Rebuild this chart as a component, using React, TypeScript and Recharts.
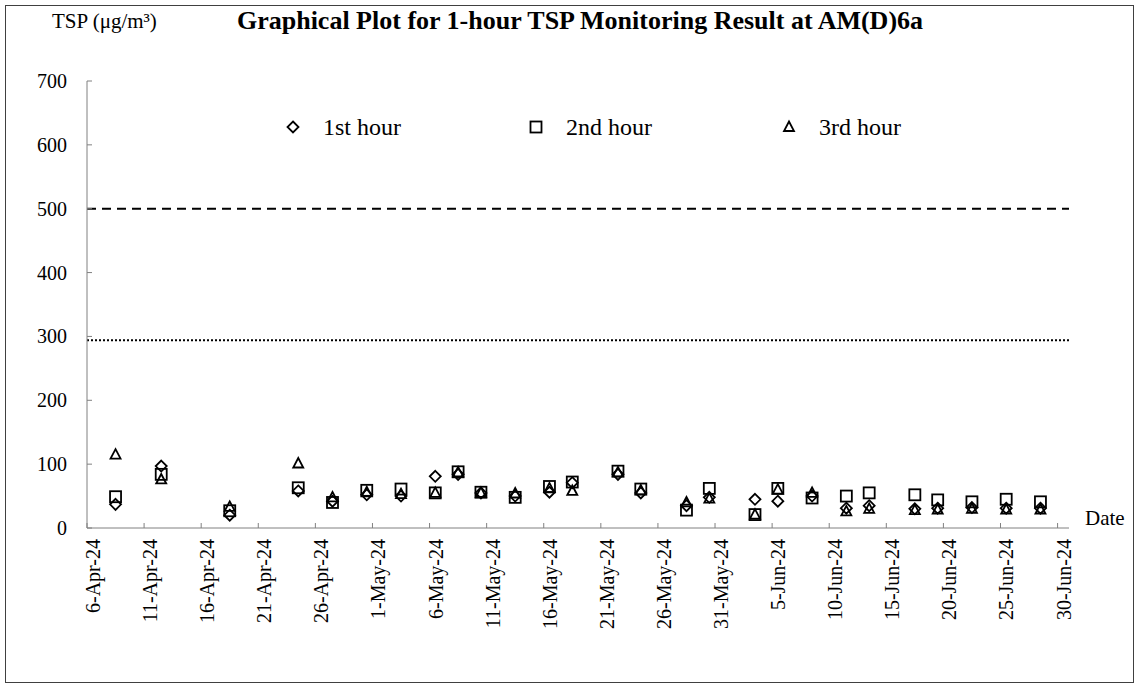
import React from 'react';
import { ScatterChart, Scatter, XAxis, YAxis, ReferenceLine, Legend } from 'recharts';

const FONT = '"Liberation Serif", "Times New Roman", serif';
const AXIS = '#808080';

// sampling days and 1-hour TSP results (ug/m3)
const sampleDates = [
  '2024-04-08', '2024-04-12', '2024-04-18', '2024-04-24', '2024-04-27', '2024-04-30',
  '2024-05-03', '2024-05-06', '2024-05-08', '2024-05-10', '2024-05-13', '2024-05-16',
  '2024-05-18', '2024-05-22', '2024-05-24', '2024-05-28', '2024-05-30', '2024-06-03',
  '2024-06-05', '2024-06-08', '2024-06-11', '2024-06-13', '2024-06-17', '2024-06-19',
  '2024-06-22', '2024-06-25', '2024-06-28',
];
const hour1 = [37, 97, 20, 58, 42, 52, 50, 81, 84, 55, 50, 56, 71, 84, 55, 35, 48, 45, 42, 50, 31, 35, 30, 31, 32, 31, 31];
const hour2 = [49, 84, 27, 63, 40, 59, 61, 55, 88, 56, 48, 65, 72, 89, 61, 28, 62, 21, 62, 47, 50, 55, 52, 44, 41, 45, 41];
const hour3 = [115, 76, 33, 101, 48, 56, 53, 55, 87, 55, 54, 62, 58, 87, 59, 40, 46, 21, 60, 55, 26, 30, 28, 29, 30, 29, 29];

const limitLevel = 500;
const actionLevel = 294;

const yTicks = [0, 100, 200, 300, 400, 500, 600, 700];
// axis runs from 6-Apr-24 (day 0) to 1-Jul-24 (day 86)
const xTickDays = [0, 5, 10, 15, 20, 25, 30, 35, 40, 45, 50, 55, 60, 65, 70, 75, 80, 85];
const xTickLabels = [
  '6-Apr-24', '11-Apr-24', '16-Apr-24', '21-Apr-24', '26-Apr-24', '1-May-24',
  '6-May-24', '11-May-24', '16-May-24', '21-May-24', '26-May-24', '31-May-24',
  '5-Jun-24', '10-Jun-24', '15-Jun-24', '20-Jun-24', '25-Jun-24', '30-Jun-24',
];

const START = Date.UTC(2024, 3, 6);
const dayOf = (s: string) => (Date.parse(s + 'T00:00:00Z') - START) / 86400000 + 0.5;

const toPoints = (vals: number[]) => sampleDates.map((d, i) => ({ day: dayOf(d), value: vals[i] }));

const Diamond = ({ cx, cy }: any) => (
  <path d={`M${cx},${cy - 5.5} L${cx + 5.5},${cy} L${cx},${cy + 5.5} L${cx - 5.5},${cy} Z`} fill="none" stroke="#000" strokeWidth={1.8} />
);
const Square = ({ cx, cy }: any) => (
  <rect x={cx - 5.5} y={cy - 5.5} width={11} height={11} fill="none" stroke="#000" strokeWidth={1.8} />
);
const Triangle = ({ cx, cy }: any) => (
  <path d={`M${cx},${cy - 5.5} L${cx + 5},${cy + 4} L${cx - 5},${cy + 4} Z`} fill="none" stroke="#000" strokeWidth={1.8} />
);

const YTick = ({ x, y, payload }: any) => (
  <g>
    <line x1={x} x2={x + 5} y1={y} y2={y} stroke={AXIS} />
    <text x={x - 20} y={y} textAnchor="end" dominantBaseline="central" fontSize={20} fontFamily={FONT} fill="#000">
      {payload.value}
    </text>
  </g>
);

const XTick = ({ x, y, payload }: any) => {
  const lx = x + 6;
  const ly = y + 11;
  return (
    <g>
      <line x1={x} x2={x} y1={y} y2={y - 5} stroke={AXIS} />
      <text
        x={lx}
        y={ly}
        transform={`rotate(-90, ${lx}, ${ly})`}
        textAnchor="end"
        dominantBaseline="central"
        fontSize={20}
        fontFamily={FONT}
        fill="#000"
      >
        {xTickLabels[xTickDays.indexOf(payload.value)] ?? ''}
      </text>
    </g>
  );
};

const legendItems = [
  { name: '1st hour', Icon: Diamond, left: 293 },
  { name: '2nd hour', Icon: Square, left: 536 },
  { name: '3rd hour', Icon: Triangle, left: 789 },
];

const LegendBox = () => (
  <div style={{ position: 'relative', width: 1139, height: 30 }}>
    {legendItems.map(({ name, Icon, left }) => (
      <div key={name} style={{ position: 'absolute', left: left - 8, top: 0, display: 'flex', alignItems: 'center', height: 30 }}>
        <svg width={16} height={16}>
          <Icon cx={8} cy={8} />
        </svg>
        <span style={{ marginLeft: 22, fontFamily: FONT, fontSize: 24, color: '#000', whiteSpace: 'nowrap' }}>{name}</span>
      </div>
    ))}
  </div>
);

export default function App() {
  return (
    <div style={{ position: 'absolute', left: 0, top: 0, width: 1139, height: 688, background: '#fff' }}>
      <div style={{ position: 'absolute', left: 5, top: 5, width: 1127, height: 676, border: '1px solid #404040' }} />
      <div
        style={{
          position: 'absolute', left: 580, top: 6, transform: 'translateX(-50%)', whiteSpace: 'nowrap',
          fontFamily: FONT, fontWeight: 'bold', fontSize: 26, color: '#000',
        }}
      >
        Graphical Plot for 1-hour TSP Monitoring Result at AM(D)6a
      </div>
      <div style={{ position: 'absolute', left: 52, top: 9, fontFamily: FONT, fontSize: 21, color: '#000', whiteSpace: 'nowrap' }}>
        TSP (μg/m³)
      </div>
      <div style={{ position: 'absolute', left: 1085, top: 506, fontFamily: FONT, fontSize: 21, color: '#000' }}>Date</div>
      <ScatterChart width={1139} height={688} margin={{ top: 81, right: 70, bottom: 60, left: 0 }}>
        <XAxis
          type="number"
          dataKey="day"
          domain={[0, 86]}
          ticks={xTickDays}
          interval={0}
          height={100}
          axisLine={{ stroke: AXIS }}
          tickLine={false}
          tickSize={0}
          tickMargin={0}
          tick={<XTick />}
        />
        <YAxis
          type="number"
          dataKey="value"
          domain={[0, 700]}
          ticks={yTicks}
          interval={0}
          width={87}
          axisLine={{ stroke: AXIS }}
          tickLine={false}
          tickSize={0}
          tickMargin={0}
          tick={<YTick />}
        />
        <ReferenceLine y={limitLevel} stroke="#000" strokeWidth={2} strokeDasharray="9 6" />
        <ReferenceLine y={actionLevel} stroke="#000" strokeWidth={2} strokeDasharray="2 2" />
        <Legend
          verticalAlign="middle"
          align="center"
          content={<LegendBox />}
          wrapperStyle={{ position: 'absolute', left: 0, top: 112, width: 1139 }}
        />
        <Scatter name="1st hour" data={toPoints(hour1)} shape={<Diamond />} isAnimationActive={false} />
        <Scatter name="2nd hour" data={toPoints(hour2)} shape={<Square />} isAnimationActive={false} />
        <Scatter name="3rd hour" data={toPoints(hour3)} shape={<Triangle />} isAnimationActive={false} />
      </ScatterChart>
    </div>
  );
}
